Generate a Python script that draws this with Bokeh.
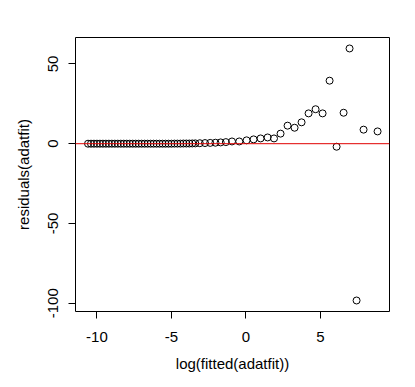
from bokeh.plotting import figure
from bokeh.models import Range1d, FixedTicker, ColumnDataSource, Span
from bokeh.embed import file_html
from bokeh.resources import INLINE

# log(fitted(adatfit))
log_fitted = [-10.60, -10.40, -10.20, -10.00, -9.80, -9.60, -9.40, -9.20, -9.00, -8.80,
              -8.60, -8.40, -8.20, -8.00, -7.80, -7.60, -7.40, -7.20, -7.00, -6.80,
              -6.60, -6.40, -6.20, -6.00, -5.80, -5.60, -5.40, -5.20, -5.00, -4.80,
              -4.60, -4.40, -4.20, -4.00, -3.80, -3.60, -3.40,
              -3.10, -2.75, -2.40, -2.05, -1.70, -1.35,
              -0.94, -0.45, 0.04, 0.51, 0.98, 1.45, 1.88, 2.32, 2.79, 3.26,
              3.73, 4.20, 4.67, 5.14, 5.61, 6.08, 6.55, 6.95, 7.42, 7.89, 8.83]
# residuals(adatfit)
resid = [0.0, 0.0, 0.0, 0.0, 0.0, 0.0, 0.0, 0.0, 0.0, 0.0,
         0.0, 0.0, 0.0, 0.0, 0.0, 0.0, 0.0, 0.0, 0.0, 0.0,
         0.0, 0.0, 0.0, 0.0, 0.0, 0.0, 0.0, 0.0, 0.0, 0.05,
         0.05, 0.05, 0.1, 0.1, 0.1, 0.15, 0.2,
         0.3, 0.4, 0.5, 0.6, 0.8, 1.0,
         1.4, 1.4, 2.1, 2.7, 3.3, 3.9, 3.3, 6.3, 11.3, 10.0,
         13.4, 19.0, 21.6, 19.0, 39.5, -1.9, 19.4, 59.7, -98.3, 8.8, 7.7]

x_ticks = [-10, -5, 0, 5]
x_tick_labels = ["-10", "-5", "0", "5"]
y_ticks = [-100, -50, 0, 50]
y_tick_labels = ["-100", "-50", "0", "50"]

FONT = "Liberation Sans"

p = figure(width=407, height=379, output_backend="svg", toolbar_location=None,
           x_range=Range1d(-11.44, 9.63), y_range=Range1d(-105.2, 66.57),
           min_border_left=75, min_border_right=18, min_border_top=37, min_border_bottom=68)
p.background_fill_color = "white"
p.border_fill_color = "white"
p.outline_line_color = "black"
p.outline_line_width = 1
p.xgrid.visible = False
p.ygrid.visible = False

src = ColumnDataSource(dict(x=log_fitted, y=resid))
p.scatter("x", "y", source=src, size=7, marker="circle", fill_color=None,
          line_color="black", line_width=1)

p.add_layout(Span(location=0, dimension="width", line_color="#e00000", line_width=1))

for ax, ticks, labels in ((p.xaxis[0], x_ticks, x_tick_labels), (p.yaxis[0], y_ticks, y_tick_labels)):
    ax.ticker = FixedTicker(ticks=ticks)
    ax.major_label_overrides = {t: l for t, l in zip(ticks, labels)}
    ax.axis_line_color = None
    ax.major_tick_line_color = "black"
    ax.major_tick_out = 7
    ax.major_tick_in = 0
    ax.minor_tick_line_color = None
    ax.major_label_text_font = FONT
    ax.major_label_text_font_size = "15px"
    ax.major_label_text_color = "black"
    ax.axis_label_text_font = FONT
    ax.axis_label_text_font_size = "15px"
    ax.axis_label_text_font_style = "normal"
    ax.axis_label_text_color = "black"

p.xaxis.axis_label = "log(fitted(adatfit))"
p.yaxis.axis_label = "residuals(adatfit)"
p.xaxis.major_label_standoff = 13
p.xaxis.axis_label_standoff = 10
p.yaxis.major_label_orientation = "vertical"
p.yaxis.major_label_standoff = 10
p.yaxis.axis_label_standoff = 14

open("out.html", "w").write(file_html(p, INLINE))
